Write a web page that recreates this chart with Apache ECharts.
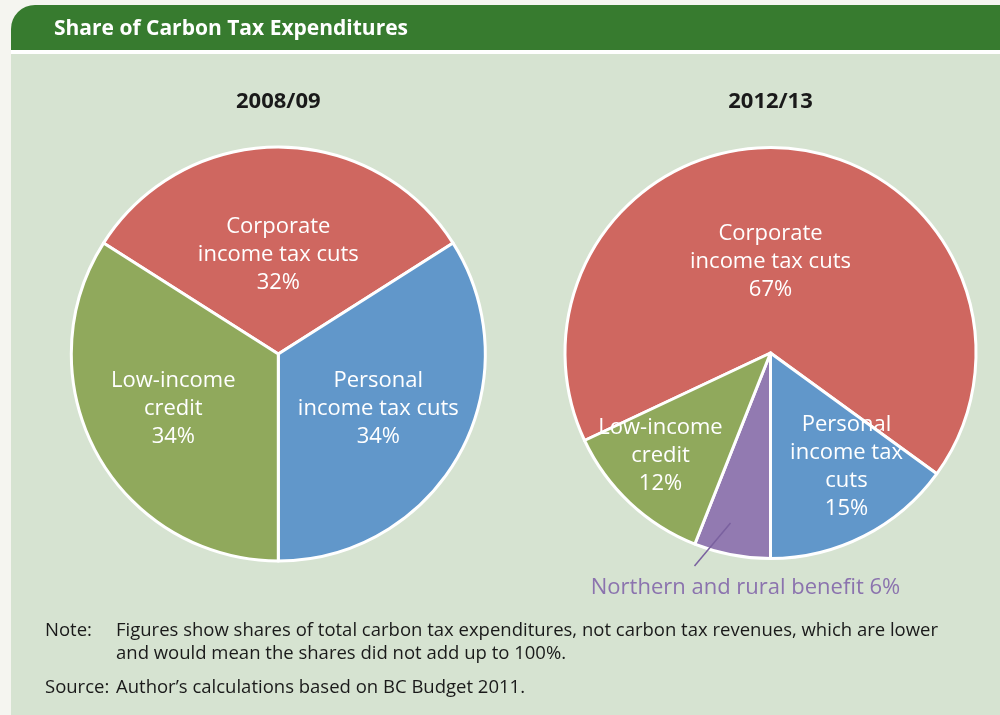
<!DOCTYPE html>
<html>
<head>
<meta charset="utf-8">
<script src="https://cdn.jsdelivr.net/npm/echarts@6/dist/echarts.min.js"></script>
<style>
  html, body { margin: 0; padding: 0; background: #f5f5f0; }
  #chart { width: 1000px; height: 715px; }
</style>
</head>
<body>
<div id="chart"></div>
<script>
// ---- data ----
const chartTitle = 'Share of Carbon Tax Expenditures';
const pieTitles = ['2008/09', '2012/13'];

const names1 = ['Corporate income tax cuts', 'Personal income tax cuts', 'Low-income credit'];
const labels1 = ['Corporate\nincome tax cuts', 'Personal\nincome tax cuts', 'Low-income\ncredit'];
const values1 = [32, 34, 34];

const names2 = ['Corporate income tax cuts', 'Personal income tax cuts', 'Northern and rural benefit', 'Low-income credit'];
const labels2 = ['Corporate\nincome tax cuts', 'Personal\nincome tax\ncuts', 'Northern and rural benefit', 'Low-income\ncredit'];
const values2 = [67, 15, 6, 12];

const noteLines = [
  'Figures show shares of total carbon tax expenditures, not carbon tax revenues, which are lower',
  'and would mean the shares did not add up to 100%.'
];
const sourceText = 'Author\u2019s calculations based on BC Budget 2011.';

// ---- styling / layout ----
const colorMap = {
  'Corporate income tax cuts': '#cf6760',
  'Personal income tax cuts': '#6197ca',
  'Low-income credit': '#90a95c',
  'Northern and rural benefit': '#927ab1'
};
const FONT = '"Open Sans", "DejaVu Sans", sans-serif';

const c1 = [278.3, 354];
const r1 = 207;
const c2 = [770.5, 353];
const r2 = 205.5;

// label centers relative to pie centres
const labelOffsets1 = [[0, -99], [100, 55], [-105, 55]];
const labelOffsets2 = [[0, -91], [76, 114], [-25, 235], [-110, 103]];
const leader2 = [[-40, 170], [-76, 213]];

const chart = echarts.init(document.getElementById('chart'), null, { renderer: 'canvas' });

function buildData(names, labels, values, outsideIndex) {
  return names.map((n, i) => {
    const item = {
      name: n,
      value: values[i],
      labelText: labels[i],
      itemStyle: { color: colorMap[n] }
    };
    if (i === outsideIndex) {
      item.label = { color: '#8b73ae' };
    }
    return item;
  });
}

function makeSeries(center, radius, startAngle, names, labels, values, offsets, outsideIndex) {
  return {
    type: 'pie',
    center: center,
    radius: radius,
    startAngle: startAngle,
    clockwise: true,
    silent: true,
    animation: false,
    itemStyle: { borderColor: '#ffffff', borderWidth: 3 },
    label: {
      show: true,
      position: 'inside',
      color: '#ffffff',
      fontFamily: FONT,
      fontSize: 22,
      lineHeight: 28,
      align: 'center',
      formatter: function (p) {
        if (p.dataIndex === outsideIndex) {
          return p.data.labelText + ' ' + p.value + '%';
        }
        return p.data.labelText + '\n' + p.value + '%';
      }
    },
    labelLine: { show: false },
    labelLayout: function (p) {
      const o = offsets[p.dataIndex];
      return {
        x: center[0] + o[0],
        y: center[1] + o[1],
        align: 'center',
        verticalAlign: 'middle'
      };
    },
    data: buildData(names, labels, values, outsideIndex)
  };
}

const noteStyle = { fill: '#1a1a1a', font: '18.5px ' + FONT, verticalAlign: 'middle' };

const option = {
  backgroundColor: '#f5f5f0',
  animation: false,
  graphic: [
    { type: 'rect', z: -10, shape: { x: 11, y: 50, width: 989, height: 665 }, style: { fill: '#ffffff' } },
    { type: 'rect', z: -9, shape: { x: 11, y: 54, width: 989, height: 661 }, style: { fill: '#d6e3d1' } },
    { type: 'rect', z: -9, shape: { x: 11, y: 5, width: 989, height: 45, r: [24, 0, 0, 0] }, style: { fill: '#377b2f' } },
    { type: 'text', z: 10, style: { text: chartTitle, x: 54, y: 29, verticalAlign: 'middle', fill: '#ffffff', font: 'bold 21px ' + FONT } },
    { type: 'text', z: 10, style: { text: pieTitles[0], x: c1[0], y: 102, align: 'center', verticalAlign: 'middle', fill: '#1a1a1a', font: 'bold 22px ' + FONT } },
    { type: 'text', z: 10, style: { text: pieTitles[1], x: c2[0], y: 102, align: 'center', verticalAlign: 'middle', fill: '#1a1a1a', font: 'bold 22px ' + FONT } },
    { type: 'polyline', z: 10, shape: { points: leader2.map(pt => [c2[0] + pt[0], c2[1] + pt[1]]) }, style: { stroke: '#7a619f', lineWidth: 1.5, fill: null } },
    { type: 'text', z: 10, style: Object.assign({ text: 'Note:', x: 45, y: 631 }, noteStyle) },
    { type: 'text', z: 10, style: Object.assign({ text: noteLines[0], x: 116, y: 631 }, noteStyle) },
    { type: 'text', z: 10, style: Object.assign({ text: noteLines[1], x: 116, y: 654 }, noteStyle) },
    { type: 'text', z: 10, style: Object.assign({ text: 'Source:', x: 45, y: 688 }, noteStyle) },
    { type: 'text', z: 10, style: Object.assign({ text: sourceText, x: 116, y: 688 }, noteStyle) }
  ],
  series: [
    makeSeries(c1, r1, 147.6, names1, labels1, values1, labelOffsets1, -1),
    makeSeries(c2, r2, 205.2, names2, labels2, values2, labelOffsets2, 2)
  ]
};

chart.setOption(option);
</script>
</body>
</html>
